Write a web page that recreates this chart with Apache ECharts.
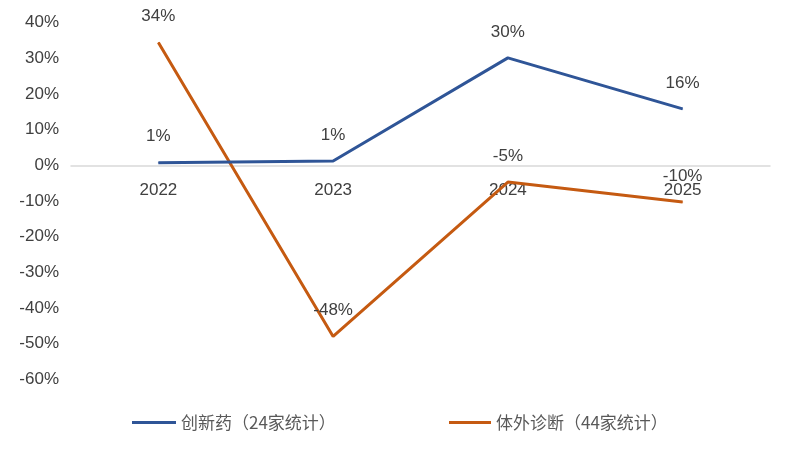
<!DOCTYPE html>
<html><head><meta charset="utf-8">
<script src="https://cdn.jsdelivr.net/npm/echarts@6/dist/echarts.min.js"></script>
<style>html,body{margin:0;padding:0;background:#fff}#c{width:792px;height:450px}</style>
</head><body><div id="c"></div>
<script>
const categories = ['2022', '2023', '2024', '2025'];
const innovativeDrug = [0.7, 1.2, 30.1, 15.8];
const ivd = [34.4, -48.0, -4.7, -10.3];
const seriesNames = ['创新药（24家统计）', '体外诊断（44家统计）'];
const yTicks = { min: -60, max: 40, interval: 10 };

const font = 'Arial, "Liberation Sans", sans-serif';
const chart = echarts.init(document.getElementById('c'));
const lbl = {
  show: true, position: 'top', distance: 17, color: '#404040', fontSize: 17, fontFamily: font,
  formatter: p => Math.round(p.value) + '%'
};
const legendText = { color: '#595959', fontSize: 17, fontFamily: '"Noto Sans CJK SC", sans-serif' };
chart.setOption({
  animation: false,
  grid: { left: 71, right: 22, top: 22.6, bottom: 70.7 },
  legend: [
    { data: [seriesNames[0]], left: 127, top: 409, icon: 'rect', itemWidth: 44, itemHeight: 3, textStyle: legendText },
    { data: [seriesNames[1]], left: 444, top: 409, icon: 'rect', itemWidth: 42, itemHeight: 3, textStyle: legendText }
  ],
  xAxis: {
    type: 'category', data: categories,
    axisTick: { show: false },
    axisLine: { onZero: true, lineStyle: { color: '#D9D9D9', width: 1.5 } },
    axisLabel: { color: '#404040', fontSize: 17, fontFamily: font, margin: -197 }
  },
  yAxis: {
    type: 'value', min: yTicks.min, max: yTicks.max, interval: yTicks.interval,
    axisLine: { show: false }, axisTick: { show: false }, splitLine: { show: false },
    axisLabel: { color: '#404040', fontSize: 17, fontFamily: font, margin: 12, formatter: '{value}%' }
  },
  series: [
    { name: seriesNames[0], type: 'line', data: innovativeDrug, symbol: 'circle', symbolSize: 1,
      lineStyle: { color: '#2F5597', width: 3 }, itemStyle: { color: '#2F5597' }, label: lbl, z: 3 },
    { name: seriesNames[1], type: 'line', data: ivd, symbol: 'circle', symbolSize: 1,
      lineStyle: { color: '#C55A11', width: 3 }, itemStyle: { color: '#C55A11' }, label: lbl, z: 2 }
  ]
});
</script></body></html>
